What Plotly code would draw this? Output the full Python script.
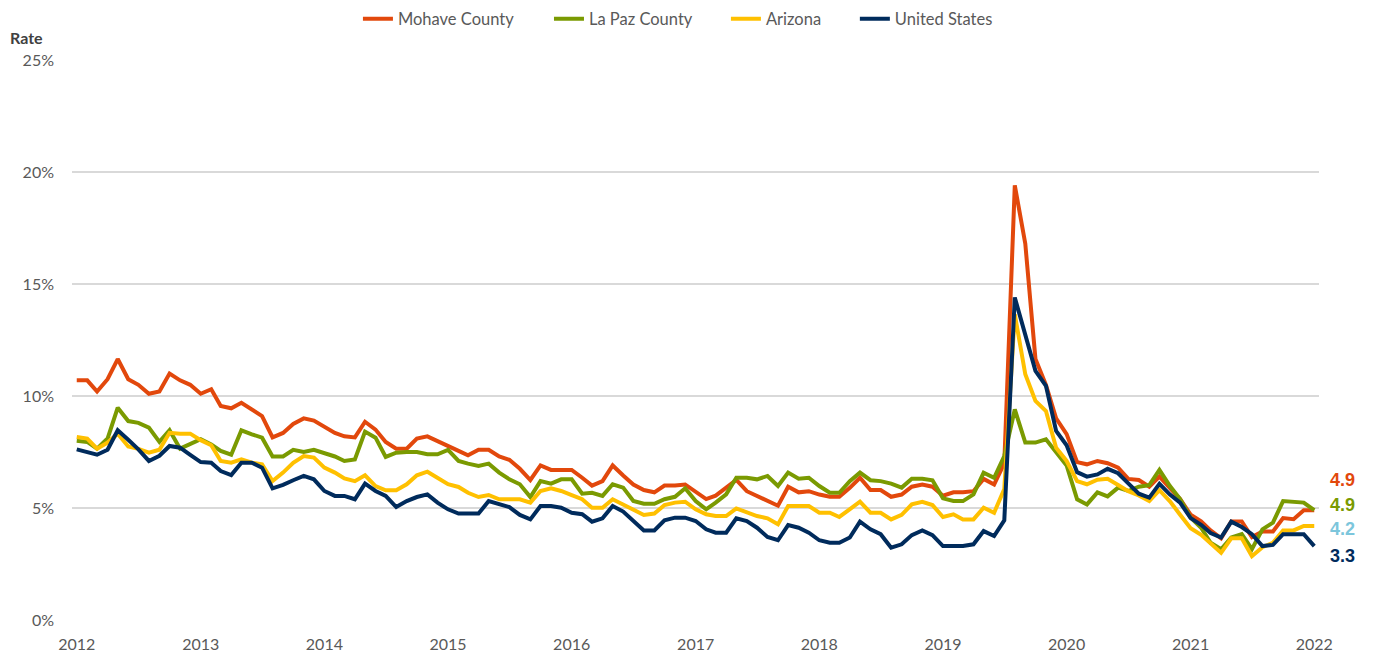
import pandas as pd
import plotly.graph_objects as go

months = pd.date_range("2012-01-01", periods=121, freq="MS")

mohave = [
    10.7, 10.7, 10.2, 10.75, 11.65, 10.75, 10.5, 10.1, 10.2, 11.0, 10.7, 10.5,
    10.1, 10.3, 9.55, 9.45, 9.7, 9.4, 9.1, 8.15, 8.35, 8.75, 9.0, 8.9,
    8.65, 8.35, 8.2, 8.15, 8.85, 8.5, 7.95, 7.65, 7.65, 8.1, 8.2, 8.0,
    7.8, 7.55, 7.35, 7.6, 7.6, 7.3, 7.15, 6.75, 6.25, 6.9, 6.7, 6.7,
    6.7, 6.35, 6.0, 6.2, 6.9, 6.45, 6.05, 5.8, 5.7, 6.0, 6.0, 6.05,
    5.7, 5.4, 5.55, 5.9, 6.25, 5.75, 5.55, 5.3, 5.1, 5.95, 5.7, 5.75,
    5.6, 5.5, 5.5, 5.9, 6.35, 5.8, 5.8, 5.5, 5.6, 5.95, 6.05, 5.95,
    5.55, 5.7, 5.7, 5.75, 6.3, 6.05, 7.0, 19.4, 16.8, 11.65, 10.5, 9.0,
    8.3, 7.05, 6.95, 7.1, 7.0, 6.8, 6.3, 6.25, 5.95, 6.4, 5.9, 5.4,
    4.7, 4.4, 4.0, 3.65, 4.4, 4.4, 3.7, 3.95, 3.95, 4.55, 4.5, 4.9, 4.9,
]

la_paz = [
    8.0, 7.95, 7.65, 8.1, 9.48, 8.88, 8.8, 8.59, 7.95, 8.47, 7.65, 7.88,
    8.07, 7.84, 7.55, 7.38, 8.47, 8.29, 8.14, 7.3, 7.3, 7.6, 7.5, 7.6,
    7.47, 7.3, 7.1, 7.17, 8.41, 8.14, 7.28, 7.47, 7.5, 7.5, 7.4, 7.4,
    7.59, 7.1, 6.98, 6.88, 6.98, 6.58, 6.28, 6.06, 5.49, 6.2, 6.09, 6.28,
    6.28, 5.64, 5.68, 5.54, 6.06, 5.91, 5.31, 5.19, 5.19, 5.39, 5.5, 5.88,
    5.31, 4.94, 5.24, 5.61, 6.35, 6.35, 6.28, 6.43, 5.98, 6.58, 6.31, 6.35,
    5.98, 5.68, 5.68, 6.2, 6.58, 6.24, 6.2, 6.09, 5.91, 6.31, 6.31, 6.24,
    5.43, 5.31, 5.31, 5.61, 6.58, 6.35, 7.32, 9.4, 7.92, 7.92, 8.07, 7.47,
    6.9, 5.39, 5.16, 5.7, 5.52, 5.91, 5.76, 5.95, 6.02, 6.7, 5.98, 5.4,
    4.57, 4.12, 3.45, 3.16, 3.68, 3.83, 3.16, 4.05, 4.35, 5.31, 5.27, 5.24, 4.9,
]

arizona = [
    8.17, 8.1, 7.65, 7.92, 8.32, 7.75, 7.64, 7.47, 7.6, 8.36, 8.32, 8.32,
    8.03, 7.8, 7.1, 7.02, 7.17, 7.02, 6.95, 6.2, 6.58, 7.02, 7.32, 7.25,
    6.8, 6.58, 6.32, 6.2, 6.46, 5.98, 5.79, 5.79, 6.06, 6.46, 6.62, 6.32,
    6.06, 5.94, 5.68, 5.49, 5.58, 5.39, 5.39, 5.39, 5.24, 5.76, 5.88, 5.76,
    5.58, 5.39, 5.01, 5.01, 5.39, 5.16, 4.94, 4.69, 4.75, 5.13, 5.24, 5.28,
    4.94, 4.72, 4.64, 4.64, 4.98, 4.79, 4.64, 4.54, 4.27, 5.09, 5.09, 5.09,
    4.79, 4.79, 4.6, 4.94, 5.28, 4.79, 4.79, 4.49, 4.69, 5.16, 5.28, 5.13,
    4.6, 4.72, 4.49, 4.49, 5.01, 4.79, 5.85, 13.65, 10.97, 9.78, 9.33, 7.69,
    7.1, 6.2, 6.06, 6.26, 6.3, 6.03, 5.75, 5.56, 5.31, 5.8, 5.3, 4.7,
    4.1, 3.8, 3.4, 3.0, 3.65, 3.65, 2.85, 3.25, 3.45, 4.0, 4.0, 4.2, 4.2,
]

united_states = [
    7.62, 7.48, 7.38, 7.6, 8.47, 8.05, 7.62, 7.1, 7.33, 7.77, 7.69, 7.37,
    7.05, 7.02, 6.65, 6.47, 7.02, 7.02, 6.8, 5.88, 6.03, 6.24, 6.43, 6.28,
    5.76, 5.54, 5.54, 5.39, 6.09, 5.76, 5.54, 5.04, 5.31, 5.49, 5.61, 5.24,
    4.94, 4.75, 4.75, 4.75, 5.31, 5.19, 5.04, 4.69, 4.49, 5.09, 5.09, 5.01,
    4.79, 4.72, 4.39, 4.54, 5.09, 4.84, 4.45, 4.0, 4.0, 4.45, 4.57, 4.57,
    4.42, 4.05, 3.9, 3.9, 4.54, 4.42, 4.12, 3.71, 3.56, 4.24, 4.12, 3.9,
    3.56, 3.45, 3.45, 3.68, 4.39, 4.05, 3.83, 3.23, 3.38, 3.79, 4.0, 3.79,
    3.3, 3.3, 3.3, 3.38, 3.97, 3.75, 4.45, 14.4, 12.75, 11.12, 10.45, 8.44,
    7.8, 6.6, 6.4, 6.5, 6.75, 6.55, 6.1, 5.64, 5.46, 6.08, 5.6, 5.24,
    4.55, 4.25, 3.88, 3.68, 4.39, 4.15, 3.83, 3.3, 3.35, 3.83, 3.83, 3.83, 3.3,
]

series_names = ["Mohave County", "La Paz County", "Arizona", "United States"]
series_values = [mohave, la_paz, arizona, united_states]
line_colors = ["#E2480C", "#7A9A01", "#FFC000", "#002B5C"]
label_colors = ["#E2480C", "#7A9A01", "#7CC6DC", "#002B5C"]
label_shifts = [30, 5, -3, -10]
legend_ids = ["legend", "legend2", "legend3", "legend4"]
legend_x = [0.2293, 0.3825, 0.5244, 0.6278]

year_ticks = pd.date_range("2012-01-01", "2022-01-01", freq="YS")
year_labels = [str(d.year) for d in year_ticks]
y_ticks = [0, 5, 10, 15, 20, 25]
y_tick_labels = ["0%", "5%", "10%", "15%", "20%", "25%"]

TICK_FONT = dict(family="Lato", size=16, color="#595959")

fig = go.Figure()
for name, vals, col, lg in zip(series_names, series_values, line_colors, legend_ids):
    fig.add_trace(go.Scatter(
        x=months, y=vals, name=name, mode="lines",
        line=dict(color=col, width=4),
        legend=lg,
        hovertemplate="%{y:.1f}%<extra>" + name + "</extra>",
    ))

for vals, col, sh in zip(series_values, label_colors, label_shifts):
    fig.add_annotation(
        x=months[-1], y=vals[-1], xref="x", yref="y",
        text=f"{vals[-1]:.1f}", showarrow=False,
        xanchor="left", yanchor="middle", xshift=14, yshift=sh,
        font=dict(family="Liberation Sans", size=18, color=col, weight="bold"),
    )

fig.add_annotation(
    x=-0.0513, y=1.041, xref="paper", yref="paper",
    text="<b>Rate</b>", showarrow=False, xanchor="left", yanchor="middle",
    font=dict(family="Lato", size=16, color="#404040"),
)

legend_common = dict(
    orientation="h", y=1.0732, yanchor="middle", xanchor="left",
    font=dict(family="Lato", size=16.5, color="#595959"),
    bgcolor="rgba(0,0,0,0)", borderwidth=0,
)
legend_layout = {}
for lg, lx in zip(legend_ids, legend_x):
    legend_layout[lg] = dict(legend_common, x=lx)

fig.update_layout(
    width=1366, height=646,
    margin=dict(l=64, r=55, t=52, b=34, autoexpand=False),
    paper_bgcolor="white", plot_bgcolor="white",
    font=dict(family="Lato", size=16, color="#595959"),
    showlegend=True,
    xaxis=dict(
        type="date",
        range=["2011-12-18", "2022-01-15"],
        tickvals=list(year_ticks), ticktext=year_labels,
        showgrid=False, zeroline=False, showline=False, ticks="",
        ticklabelstandoff=13,
        tickfont=TICK_FONT,
    ),
    yaxis=dict(
        range=[0, 25], tickvals=y_ticks, ticktext=y_tick_labels,
        showgrid=True, gridcolor="#D9D9D9", gridwidth=1.5,
        zeroline=False, showline=False, ticks="",
        ticklabelstandoff=17,
        tickfont=TICK_FONT,
    ),
    **legend_layout,
)

fig.write_html("out.html")
